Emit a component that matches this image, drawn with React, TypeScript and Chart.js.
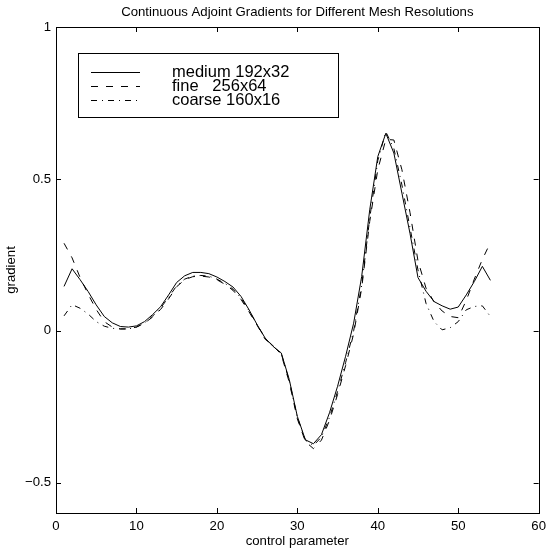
import React, { useEffect, useRef } from "react";
import { Chart, registerables } from "chart.js";

Chart.register(...registerables);

const controlParameter = [
  1, 2, 3, 4, 5, 6, 7, 8, 9, 10, 11, 12, 13, 14, 15, 16, 17, 18, 19, 20, 21, 22, 23, 24, 25, 26, 27,
  28, 29, 30, 31, 32, 33, 34, 35, 36, 37, 38, 39, 40, 41, 42, 43, 44, 45, 46, 47, 48, 49, 50, 51, 52, 53, 54,
];

const medium = [
  0.146, 0.204, 0.168, 0.129, 0.085, 0.047, 0.026, 0.014, 0.012, 0.016,
  0.03, 0.053, 0.079, 0.118, 0.159, 0.181, 0.192, 0.192, 0.188, 0.177,
  0.162, 0.144, 0.113, 0.069, 0.02, -0.024, -0.052, -0.073, -0.161, -0.282,
  -0.359, -0.372, -0.342, -0.27, -0.183, -0.084, 0.025, 0.179, 0.398, 0.573,
  0.65, 0.585, 0.453, 0.321, 0.175, 0.13, 0.096, 0.082, 0.071, 0.078,
  0.118, 0.162, 0.212, 0.166,
];

const fine = [
  0.288, 0.24, 0.175, 0.12, 0.07, 0.03, 0.012, 0.006, 0.006, 0.012,
  0.025, 0.045, 0.07, 0.105, 0.145, 0.168, 0.178, 0.18, 0.177, 0.168,
  0.153, 0.133, 0.103, 0.062, 0.018, -0.028, -0.05, -0.078, -0.17, -0.29,
  -0.365, -0.388, -0.36, -0.295, -0.21, -0.115, -0.01, 0.14, 0.36, 0.53,
  0.63, 0.628, 0.53, 0.39, 0.23, 0.14, 0.095, 0.065, 0.047, 0.043,
  0.1, 0.17, 0.235, 0.29,
];

const coarse = [
  0.049, 0.086, 0.074, 0.055, 0.03, 0.015, 0.008, 0.006, 0.006, 0.012,
  0.025, 0.048, 0.075, 0.11, 0.148, 0.17, 0.18, 0.182, 0.18, 0.17,
  0.156, 0.137, 0.108, 0.066, 0.02, -0.025, -0.05, -0.075, -0.165, -0.285,
  -0.36, -0.378, -0.35, -0.285, -0.2, -0.105, 0.0, 0.15, 0.37, 0.56,
  0.655, 0.6, 0.48, 0.34, 0.2, 0.09, 0.03, 0.003, 0.01, 0.03,
  0.069, 0.08, 0.082, 0.047,
];

const xTicks = [0, 10, 20, 30, 40, 50, 60];
const yTicks = [-0.5, 0, 0.5, 1];
const seriesLabels = ["medium 192x32", "fine   256x64", "coarse 160x16"];
const titleText = "Continuous Adjoint Gradients for Different Mesh Resolutions";
const xTitle = "control parameter";
const yTitle = "gradient";

const FONT = "'Liberation Sans', Arial, Helvetica, sans-serif";
const dashes: number[][] = [[], [7, 8], [6, 5, 1, 5]];

const framePlugin = {
  id: "matlabFrame",
  afterDraw(chart: any) {
    const { ctx, chartArea, scales } = chart;
    const { left, right, top, bottom } = chartArea;
    ctx.save();
    ctx.strokeStyle = "#000";
    ctx.lineWidth = 1;
    ctx.setLineDash([]);
    ctx.strokeRect(Math.round(left) + 0.5, Math.round(top) + 0.5, Math.round(right - left), Math.round(bottom - top));
    const tl = 5;
    ctx.beginPath();
    scales.x.ticks.forEach((t: any) => {
      const px = Math.round(scales.x.getPixelForValue(t.value)) + 0.5;
      ctx.moveTo(px, bottom);
      ctx.lineTo(px, bottom - tl);
      ctx.moveTo(px, top);
      ctx.lineTo(px, top + tl);
    });
    scales.y.ticks.forEach((t: any) => {
      const py = Math.round(scales.y.getPixelForValue(t.value)) + 0.5;
      ctx.moveTo(left, py);
      ctx.lineTo(left + tl, py);
      ctx.moveTo(right, py);
      ctx.lineTo(right - tl, py);
    });
    ctx.stroke();

    // title
    ctx.fillStyle = "#000";
    ctx.font = `13.2px ${FONT}`;
    ctx.textAlign = "center";
    ctx.textBaseline = "middle";
    ctx.fillText(titleText, (left + right) / 2, 12);

    // legend
    const bx = 78, by = 53, bw = 260, bh = 64;
    ctx.fillStyle = "#fff";
    ctx.fillRect(bx, by, bw, bh);
    ctx.strokeRect(bx + 0.5, by + 0.5, bw, bh);
    ctx.font = `16.5px ${FONT}`;
    ctx.textAlign = "left";
    chart.data.datasets.forEach((ds: any, i: number) => {
      const y = by + 19 + i * 14;
      ctx.setLineDash(ds.borderDash || []);
      ctx.beginPath();
      ctx.moveTo(91, Math.round(y) + 0.5);
      ctx.lineTo(140, Math.round(y) + 0.5);
      ctx.stroke();
      ctx.setLineDash([]);
      ctx.fillStyle = "#000";
      ctx.fillText(ds.label, 172, y + 0.5);
    });
    ctx.restore();
  },
};

export default function App() {
  const ref = useRef<HTMLCanvasElement | null>(null);
  useEffect(() => {
    if (!ref.current) return;
    const series = [medium, fine, coarse];
    const chart = new Chart(ref.current, {
      type: "line",
      data: {
        datasets: series.map((vals, i) => ({
          label: seriesLabels[i],
          data: controlParameter.map((x, j) => ({ x, y: vals[j] })),
          borderColor: "#000",
          borderWidth: 1,
          borderDash: dashes[i],
          pointRadius: 0,
          fill: false,
          tension: 0,
        })),
      },
      options: {
        animation: false,
        responsive: false,
        maintainAspectRatio: false,
        layout: { padding: { left: 0, right: 9, top: 27, bottom: 0 } },
        plugins: { legend: { display: false }, title: { display: false }, tooltip: { enabled: false } },
        scales: {
          x: {
            type: "linear",
            min: 0,
            max: 60,
            grid: { display: false, drawTicks: false },
            border: { display: false },
            afterBuildTicks: (s: any) => { s.ticks = xTicks.map((v) => ({ value: v })); },
            afterFit: (s: any) => { s.height = 39; },
            ticks: { color: "#000", font: { family: FONT, size: 13.2 }, padding: 5, maxRotation: 0 },
            title: { display: true, text: xTitle, color: "#000", font: { family: FONT, size: 13.2 }, padding: { top: 0, bottom: 3 } },
          },
          y: {
            type: "linear",
            min: -0.6,
            max: 1,
            grid: { display: false, drawTicks: false },
            border: { display: false },
            afterBuildTicks: (s: any) => { s.ticks = yTicks.map((v) => ({ value: v })); },
            afterFit: (s: any) => { s.width = 56; },
            ticks: {
              color: "#000",
              font: { family: FONT, size: 13.2 },
              padding: 5,
              callback: (v: any) => (v < 0 ? "\u2212" + String(Math.abs(v)) : String(v)),
            },
            title: { display: true, text: yTitle, color: "#000", font: { family: FONT, size: 13.2 }, padding: { top: 3, bottom: 0 } },
          },
        },
      },
      plugins: [framePlugin],
    });
    return () => chart.destroy();
  }, []);
  return (
    <div style={{ position: "fixed", left: 0, top: 0, width: 551, height: 552, background: "#fff" }}>
      <canvas ref={ref} width={551} height={552} style={{ width: 551, height: 552 }} />
    </div>
  );
}
